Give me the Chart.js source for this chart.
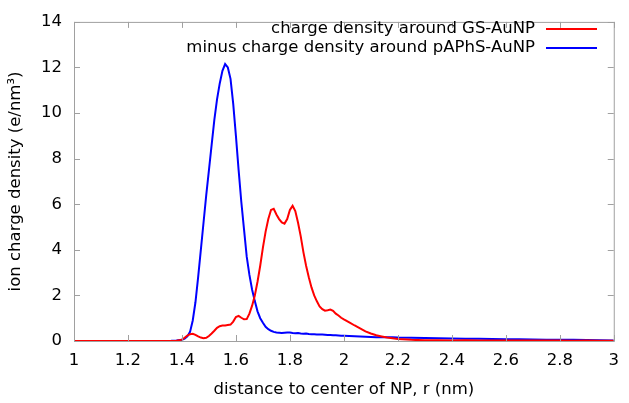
<!DOCTYPE html>
<html>
<head>
<meta charset="utf-8">
<script src="https://cdn.jsdelivr.net/npm/chart.js@4/dist/chart.umd.min.js"></script>
<style>
  html, body { margin: 0; padding: 0; background: #fff; }
  #wrap { width: 629px; height: 403px; }
</style>
</head>
<body>
<div id="wrap"><canvas id="myChart" width="629" height="403"></canvas></div>
<script>
// distance r (nm), shared by both curves
const rValues = [
  1.0, 1.1, 1.2, 1.3, 1.36, 1.38, 1.40, 1.41, 1.42, 1.43, 1.44, 1.45, 1.46, 1.47, 1.48, 1.49,
  1.50, 1.51, 1.52, 1.53, 1.54, 1.55, 1.56, 1.57, 1.58, 1.59, 1.60, 1.61, 1.62, 1.63, 1.64,
  1.65, 1.66, 1.67, 1.68, 1.69, 1.70, 1.71, 1.72, 1.73, 1.74, 1.75, 1.76, 1.77, 1.78, 1.79,
  1.80, 1.81, 1.82, 1.83, 1.84, 1.85, 1.86, 1.87, 1.88, 1.89, 1.90, 1.91, 1.92, 1.93, 1.94,
  1.95, 1.96, 1.97, 1.98, 1.99, 2.00, 2.02, 2.04, 2.06, 2.08, 2.10, 2.12, 2.14, 2.16, 2.18,
  2.20, 2.25, 2.30, 2.35, 2.40, 2.45, 2.50, 2.55, 2.60, 2.65, 2.70, 2.75, 2.80, 2.85, 2.90,
  2.95, 3.0
];

// charge density around GS-AuNP
const gsDensity = [
  0, 0, 0, 0, 0, 0.01, 0.06, 0.14, 0.24, 0.3, 0.32, 0.27, 0.2, 0.15, 0.12, 0.14,
  0.22, 0.33, 0.45, 0.58, 0.65, 0.68, 0.68, 0.7, 0.72, 0.85, 1.05, 1.1, 1.02, 0.95, 0.96,
  1.2, 1.55, 2.0, 2.6, 3.3, 4.1, 4.8, 5.35, 5.75, 5.8, 5.55, 5.35, 5.2, 5.15, 5.35,
  5.75, 5.93, 5.7, 5.2, 4.6, 3.9, 3.3, 2.8, 2.35, 2.0, 1.74, 1.52, 1.4, 1.33, 1.35,
  1.38, 1.32, 1.2, 1.12, 1.02, 0.95, 0.82, 0.68, 0.55, 0.42, 0.33, 0.25, 0.2, 0.15, 0.12,
  0.09, 0.05, 0.03, 0.03, 0.02, 0.03, 0.02, 0.02, 0.02, 0.02, 0.02, 0.02, 0.02, 0.01, 0.02,
  0.01, 0.01
];

// minus charge density around pAPhS-AuNP
const paphsDensity = [
  0, 0, 0, 0, 0.01, 0.02, 0.05, 0.1, 0.2, 0.4, 0.9, 1.7, 2.8, 4.0, 5.2, 6.4,
  7.5, 8.6, 9.7, 10.6, 11.3, 11.85, 12.15, 12.0, 11.5, 10.4, 9.0, 7.5, 6.1, 4.9, 3.7,
  2.9, 2.25, 1.75, 1.3, 1.0, 0.8, 0.62, 0.52, 0.45, 0.4, 0.37, 0.36, 0.35, 0.36, 0.37,
  0.37, 0.35, 0.34, 0.35, 0.33, 0.32, 0.33, 0.31, 0.3, 0.3, 0.29, 0.28, 0.28, 0.27, 0.26,
  0.26, 0.25, 0.25, 0.24, 0.23, 0.23, 0.22, 0.21, 0.2, 0.19, 0.18, 0.17, 0.17, 0.16, 0.16,
  0.15, 0.14, 0.13, 0.12, 0.11, 0.1, 0.1, 0.09, 0.08, 0.08, 0.07, 0.06, 0.06, 0.05, 0.04,
  0.03, 0.02
];

const seriesLabels = ['charge density around GS-AuNP', 'minus charge density around pAPhS-AuNP'];
const seriesColors = ['#ff0000', '#0000ff'];

const FONT = 'DejaVu Sans';
const FONT_SIZE = 16.5;
const frameColor = '#a0a0a0';

function toPoints(ys) {
  return rValues.map((r, i) => ({ x: r, y: ys[i] }));
}

// gnuplot style frame, inward ticks and key
const gnuplotFrame = {
  id: 'gnuplotFrame',
  afterDatasetsDraw(chart) {
    const { ctx, chartArea: a, scales } = chart;
    ctx.save();
    ctx.strokeStyle = frameColor;
    ctx.lineWidth = 1;
    ctx.strokeRect(a.left + 0.5, a.top + 0.5, a.right - a.left, a.bottom - a.top);
    const tl = 6;
    ctx.beginPath();
    scales.x.ticks.forEach((t, i) => {
      const px = Math.round(scales.x.getPixelForTick(i)) + 0.5;
      ctx.moveTo(px, a.bottom); ctx.lineTo(px, a.bottom - tl);
      ctx.moveTo(px, a.top); ctx.lineTo(px, a.top + tl);
    });
    scales.y.ticks.forEach((t, i) => {
      const py = Math.round(scales.y.getPixelForTick(i)) + 0.5;
      ctx.moveTo(a.left, py); ctx.lineTo(a.left + tl, py);
      ctx.moveTo(a.right, py); ctx.lineTo(a.right - tl, py);
    });
    ctx.stroke();

    // key, top right
    ctx.font = FONT_SIZE + 'px "' + FONT + '"';
    ctx.textAlign = 'right';
    ctx.textBaseline = 'middle';
    const rows = [29, 48];
    seriesLabels.forEach((lab, i) => {
      ctx.fillStyle = '#000';
      ctx.fillText(lab, 535, rows[i]);
      ctx.strokeStyle = seriesColors[i];
      ctx.lineWidth = 2;
      ctx.beginPath();
      ctx.moveTo(546, rows[i]);
      ctx.lineTo(597, rows[i]);
      ctx.stroke();
    });
    ctx.restore();
  }
};

const ctx = document.getElementById('myChart').getContext('2d');
const myChart = new Chart(ctx, {
  type: 'line',
  data: {
    datasets: [{
      label: seriesLabels[0],
      data: toPoints(gsDensity),
      borderColor: seriesColors[0],
      borderWidth: 2,
      pointRadius: 0,
      fill: false
    }, {
      label: seriesLabels[1],
      data: toPoints(paphsDensity),
      borderColor: seriesColors[1],
      borderWidth: 2,
      pointRadius: 0,
      fill: false
    }]
  },
  options: {
    responsive: false,
    animation: false,
    layout: { padding: { top: 12, right: 12, left: 0, bottom: 0 } },
    plugins: {
      legend: { display: false },
      tooltip: { enabled: false }
    },
    scales: {
      x: {
        type: 'linear',
        min: 1,
        max: 3,
        grid: { display: false, drawTicks: false },
        border: { display: false },
        ticks: {
          stepSize: 0.2,
          padding: 10,
          color: '#000',
          font: { family: FONT, size: FONT_SIZE },
          maxRotation: 0,
          callback: v => String(Math.round(v * 10) / 10)
        },
        title: {
          display: true,
          text: 'distance to center of NP, r (nm)',
          color: '#000',
          font: { family: FONT, size: FONT_SIZE },
          padding: { top: 0, bottom: 3 }
        },
        afterFit: s => { s.height = 62; }
      },
      y: {
        min: 0,
        max: 14,
        grid: { display: false, drawTicks: false },
        border: { display: false },
        ticks: {
          stepSize: 2,
          padding: 12,
          color: '#000',
          font: { family: FONT, size: FONT_SIZE }
        },
        title: {
          display: true,
          text: 'ion charge density (e/nm\u00B3)',
          color: '#000',
          font: { family: FONT, size: FONT_SIZE },
          padding: { top: 6, bottom: 0 }
        },
        afterFit: s => { s.width = 74; }
      }
    }
  },
  plugins: [gnuplotFrame]
});
</script>
</body>
</html>
